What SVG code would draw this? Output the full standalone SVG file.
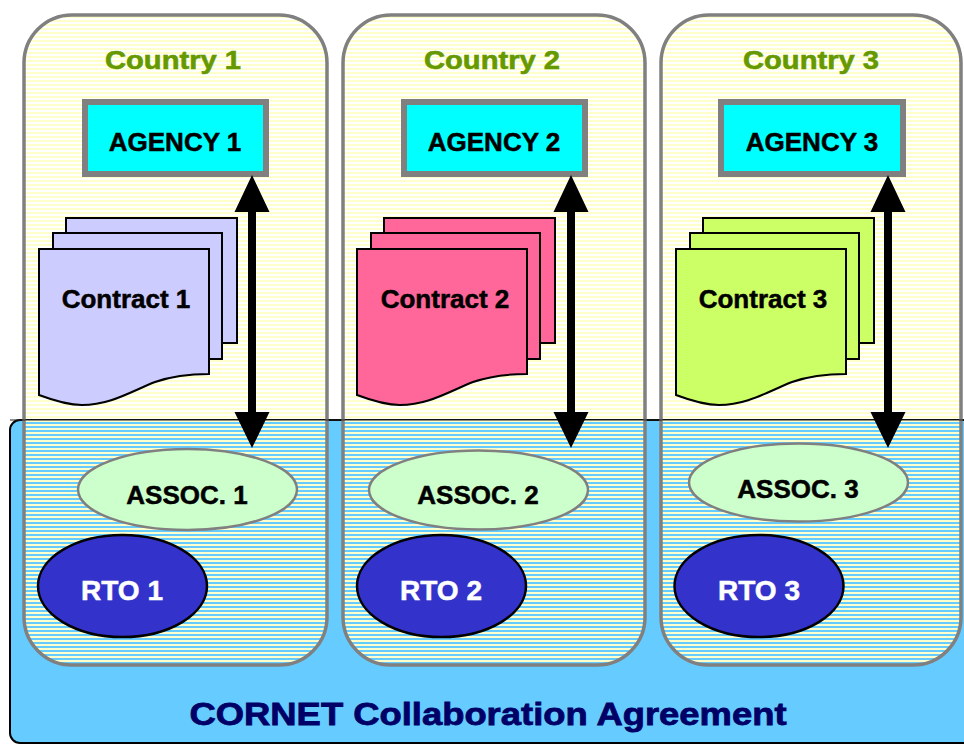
<svg xmlns="http://www.w3.org/2000/svg" width="964" height="744" viewBox="0 0 964 744">
<defs>
<pattern id="stripes" patternUnits="userSpaceOnUse" width="8" height="4">
<rect x="0" y="0" width="8" height="2" fill="#FFFFCC"/>
</pattern>
<style>
text{font-family:"Liberation Sans",Arial,sans-serif;font-weight:bold;text-anchor:middle}
.panel{fill:url(#stripes);stroke:#808080;stroke-width:3.5}
.agency{fill:#00FFFF;stroke:#808080;stroke-width:6}
.sheet{stroke:#000;stroke-width:2}
.c1{fill:#CCCCFF}.c2{fill:#FF6699}.c3{fill:#CCFF66}
.assoc{fill:#CCFFCC;stroke:#808080;stroke-width:2.5}
.rto{fill:#3333CC;stroke:#000;stroke-width:2.5}
.country{fill:#669900;stroke:#669900;stroke-width:0.6;font-size:26px}
.lbl{fill:#000;stroke:#000;stroke-width:0.5;font-size:26px}
.rtot{fill:#fff;stroke:#fff;stroke-width:0.5;font-size:28px}
.title{fill:#000066;stroke:#000066;stroke-width:0.8;font-size:32px}
.arrow{fill:#000}
</style>
</defs>
<rect width="964" height="744" fill="#fff"/>
<g id="cornet">
<rect x="10" y="420" width="980" height="323" rx="10" fill="#66CCFF" stroke="#000" stroke-width="2"/>
<text class="title" x="488" y="725" textLength="597" lengthAdjust="spacingAndGlyphs">CORNET Collaboration Agreement</text>
</g>
<g id="country1">
<rect class="panel" x="24" y="15" width="303" height="650" rx="48"/>
<text class="country" x="173" y="69" textLength="136" lengthAdjust="spacingAndGlyphs">Country 1</text>
</g>
<g id="country2">
<rect class="panel" x="343" y="15" width="302" height="650" rx="48"/>
<text class="country" x="492" y="69" textLength="136" lengthAdjust="spacingAndGlyphs">Country 2</text>
</g>
<g id="country3">
<rect class="panel" x="661" y="15" width="300" height="650" rx="48"/>
<text class="country" x="811" y="69" textLength="136" lengthAdjust="spacingAndGlyphs">Country 3</text>
</g>
<line x1="10" y1="420" x2="964" y2="420" stroke="#222" stroke-width="1.2"/>
<g id="agency1"><rect class="agency" x="85" y="102" width="181" height="72"/><text class="lbl" x="175" y="151">AGENCY 1</text></g>
<g id="agency2"><rect class="agency" x="404" y="102" width="181" height="72"/><text class="lbl" x="494" y="151">AGENCY 2</text></g>
<g id="agency3"><rect class="agency" x="721" y="102" width="182" height="72"/><text class="lbl" x="812" y="151">AGENCY 3</text></g>
<g id="contract1">
<rect class="sheet c1" x="66" y="218" width="171" height="125"/>
<rect class="sheet c1" x="53" y="233" width="169" height="126"/>
<path class="sheet c1" d="M39,249 H209 V374 C195,374 175,375 155,382 C130,392 110,405 82,405 C70,405 55,401 39,395 Z"/>
<text class="lbl" x="126" y="308">Contract 1</text>
</g>
<g id="contract2">
<rect class="sheet c2" x="384" y="218" width="171" height="125"/>
<rect class="sheet c2" x="371" y="233" width="169" height="126"/>
<path class="sheet c2" d="M357,249 H527 V374 C513,374 493,375 473,382 C448,392 428,405 400,405 C388,405 373,401 357,395 Z"/>
<text class="lbl" x="445" y="308">Contract 2</text>
</g>
<g id="contract3">
<rect class="sheet c3" x="703" y="218" width="171" height="125"/>
<rect class="sheet c3" x="690" y="233" width="169" height="126"/>
<path class="sheet c3" d="M676,249 H846 V374 C832,374 812,375 792,382 C767,392 747,405 719,405 C707,405 692,401 676,395 Z"/>
<text class="lbl" x="763" y="308">Contract 3</text>
</g>
<g id="connectors">
<path class="arrow" d="M252,175 L269.5,212 L256,212 L256,412 L269.5,412 L252,448 L234.5,412 L248,412 L248,212 L234.5,212 Z"/>
<path class="arrow" d="M571,175 L588.5,212 L575,212 L575,412 L588.5,412 L571,448 L553.5,412 L567,412 L567,212 L553.5,212 Z"/>
<path class="arrow" d="M888,175 L905.5,212 L892,212 L892,412 L905.5,412 L888,448 L870.5,412 L884,412 L884,212 L870.5,212 Z"/>
</g>
<g id="assoc1"><ellipse class="assoc" cx="187.5" cy="489.5" rx="109.5" ry="40.5"/><text class="lbl" x="187" y="504">ASSOC. 1</text></g>
<g id="assoc2"><ellipse class="assoc" cx="478.5" cy="490" rx="109.5" ry="39.5"/><text class="lbl" x="478" y="504">ASSOC. 2</text></g>
<g id="assoc3"><ellipse class="assoc" cx="798.5" cy="482.5" rx="109.5" ry="39"/><text class="lbl" x="798" y="498">ASSOC. 3</text></g>
<g id="rto1"><ellipse class="rto" cx="122.5" cy="586" rx="84.5" ry="51"/><text class="rtot" x="122" y="600">RTO 1</text></g>
<g id="rto2"><ellipse class="rto" cx="441.5" cy="586" rx="84.5" ry="51"/><text class="rtot" x="441" y="600">RTO 2</text></g>
<g id="rto3"><ellipse class="rto" cx="759" cy="586" rx="84.5" ry="51"/><text class="rtot" x="759" y="600">RTO 3</text></g>
</svg>
